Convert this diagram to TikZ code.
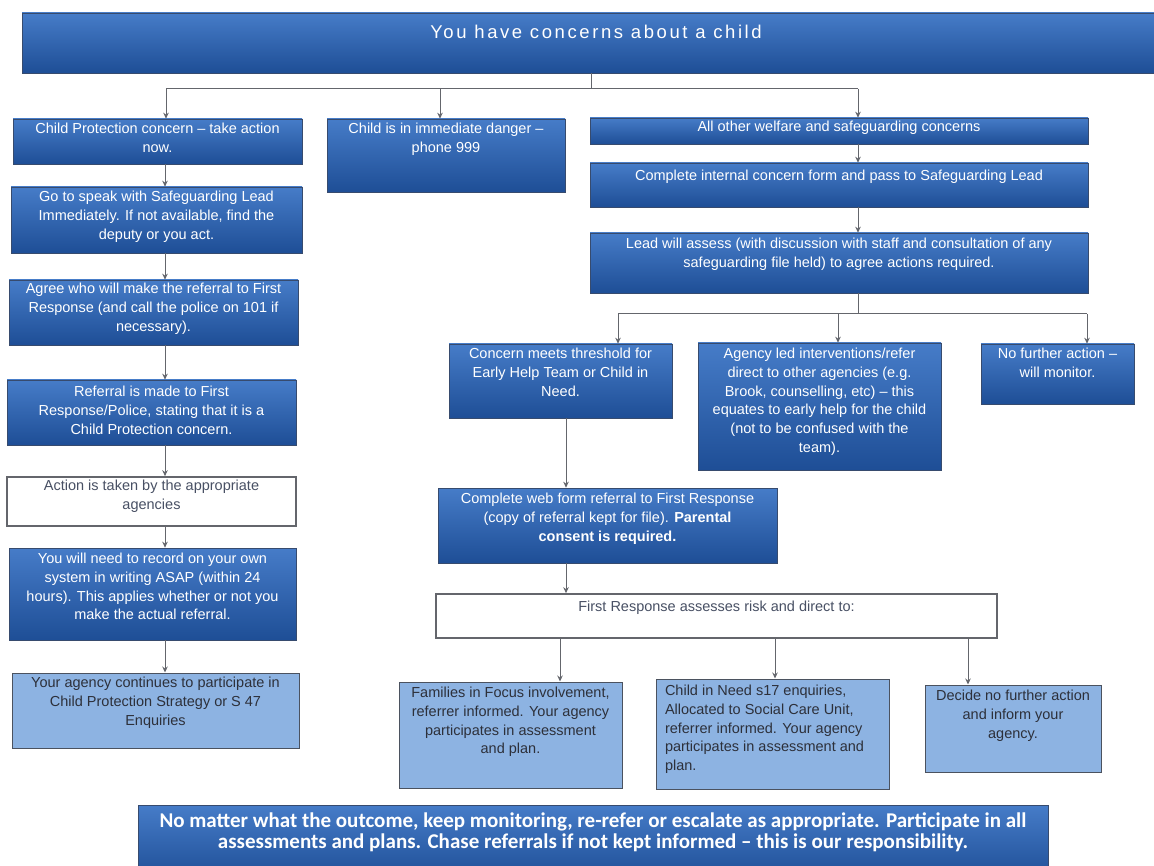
\documentclass[tikz,border=0pt]{standalone}
\usepackage{fontspec}
\setmainfont{Liberation Sans}
\newfontfamily\titlefont{Liberation Sans}[LetterSpace=14]
\newfontfamily\notefont{Carlito}
\usetikzlibrary{arrows.meta}

\definecolor{boxtop}{RGB}{70,124,200}
\definecolor{boxbot}{RGB}{30,78,150}
\definecolor{boxedge}{RGB}{55,75,110}
\definecolor{paleblue}{RGB}{141,179,226}
\definecolor{paleedge}{RGB}{75,82,95}
\definecolor{greyline}{RGB}{100,102,108}
\definecolor{darktext}{RGB}{45,48,58}
\definecolor{whitetext}{RGB}{72,80,100}

% text block of a box: [top padding]{width}{height}{lines}
\newcommand{\boxtxt}[4][4pt]{\parbox[c][#3][t]{#2}{\centering\vspace*{#1}#4}}

\tikzset{
  boxfont/.style={font=\fontsize{14.5}{18.8}\selectfont},
  darkbox/.style={boxfont, inner sep=0pt, draw=boxedge, line width=0.6pt,
    top color=boxtop, bottom color=boxbot, text=white},
  palebox/.style={boxfont, inner sep=0pt, draw=paleedge, line width=1pt,
    fill=paleblue, text=darktext},
  whitebox/.style={boxfont, inner sep=0pt, draw=greyline, line width=1.6pt,
    fill=white, text=whitetext},
  link/.style={draw=greyline, line width=1pt},
  linkarrow/.style={link, -{Stealth[length=6pt,width=5.5pt]}}
}

\begin{document}
\begin{tikzpicture}[x=1pt,y=-1pt]
    \useasboundingbox (0,0) rectangle (1154,866);
    \clip (0,0) rectangle (1154,866);

    % heading
    \node[darkbox] (top) at (596,43)
        {\boxtxt[12pt]{1148pt}{60pt}{\titlefont\fontsize{18.5}{22}\selectfont You have concerns about a child}};

    % left column
    \node[darkbox] (cp) at (157.5,141.5)
        {\boxtxt{289pt}{45pt}{Child Protection concern – take action\\ now.}};
    \node[darkbox] (golead) at (156.5,220)
        {\boxtxt{291pt}{66pt}{Go to speak with Safeguarding Lead\\ Immediately. If not available, find the\\ deputy or you act.}};
    \node[darkbox] (agree) at (153.5,312.5)
        {\boxtxt[3pt]{289pt}{65pt}{Agree who will make the referral to First\\ Response (and call the police on 101 if\\ necessary).}};
    \node[darkbox] (referral) at (151.5,412.5)
        {\boxtxt[6pt]{289pt}{65pt}{Referral is made to First\\ Response/Police, stating that it is a\\ Child Protection concern.}};
    \node[whitebox] (action) at (151.5,501.5)
        {\boxtxt[3pt]{289pt}{49pt}{Action is taken by the appropriate\\ agencies}};
    \node[darkbox] (record) at (152.5,594)
        {\boxtxt[5pt]{287pt}{92pt}{You will need to record on your own\\ system in writing ASAP (within 24\\ hours). This applies whether or not you\\ make the actual referral.}};
    \node[palebox] (continue) at (155.5,710.5)
        {\boxtxt{287pt}{75pt}{Your agency continues to participate in\\ Child Protection Strategy or S 47\\ Enquiries}};

    % middle
    \node[darkbox] (danger) at (446,155.5)
        {\boxtxt{238pt}{73pt}{Child is in immediate danger –\\ phone 999}};

    % right column
    \node[darkbox] (allother) at (839,131)
        {\boxtxt[3pt]{498pt}{26pt}{All other welfare and safeguarding concerns}};
    \node[darkbox] (internal) at (839,185)
        {\boxtxt[7pt]{498pt}{44pt}{Complete internal concern form and pass to Safeguarding Lead}};
    \node[darkbox] (assess) at (839,263)
        {\boxtxt[5pt]{498pt}{60pt}{Lead will assess (with discussion with staff and consultation of any\\ safeguarding file held) to agree actions required.}};

    \node[darkbox] (threshold) at (560.5,381)
        {\boxtxt{223pt}{74pt}{Concern meets threshold for\\ Early Help Team or Child in\\ Need.}};
    \node[darkbox] (agency) at (819.5,406.5)
        {\boxtxt[5pt]{243pt}{127pt}{Agency led interventions/refer\\ direct to other agencies (e.g.\\ Brook, counselling, etc) – this\\ equates to early help for the child\\ (not to be confused with the\\ team).}};
    \node[darkbox] (nofurther) at (1057.5,374)
        {\boxtxt{153pt}{60pt}{No further action –\\ will monitor.}};

    \node[darkbox] (webform) at (607.5,525.5)
        {\boxtxt[5pt]{339pt}{75pt}{Complete web form referral to First Response\\ (copy of referral kept for file). \textbf{Parental}\\ \textbf{consent is required.}}};
    \node[whitebox] (firstresp) at (716.5,616)
        {\boxtxt[7pt]{561pt}{44pt}{First Response assesses risk and direct to:}};

    \node[palebox] (families) at (510.5,735)
        {\boxtxt[5pt]{223pt}{106pt}{Families in Focus involvement,\\ referrer informed. Your agency\\ participates in assessment\\ and plan.}};
    \node[palebox] (cin) at (772.5,734)
        {\boxtxt[6pt]{233pt}{110pt}{\raggedright\leftskip=9pt Child in Need s17 enquiries,\\ Allocated to Social Care Unit,\\ referrer informed. Your agency\\ participates in assessment and\\ plan.}};
    \node[palebox] (decide) at (1013,728.5)
        {\boxtxt[5pt]{176pt}{87pt}{Decide no further action\\ and inform your\\ agency.}};

    % closing note
    \node[darkbox] (note) at (593,842.5)
        {\boxtxt[8pt]{910pt}{75pt}{\notefont\bfseries\fontsize{21}{21}\selectfont No matter what the outcome, keep monitoring, re-refer or escalate as appropriate. Participate in all\\ assessments and plans. Chase referrals if not kept informed – this is our responsibility.}};

    % first split
    \coordinate (hub) at (591,89);
    \coordinate (hubL) at (166,89);
    \coordinate (hubM) at (440,89);
    \coordinate (hubR) at (858,89);
    \draw[link] (top.south -| hub) -- (hub);
    \draw[link] (hubL) -- (hubR);
    \draw[linkarrow] (hubL) -- (hubL |- cp.north);
    \draw[linkarrow] (hubM) -- (hubM |- danger.north);
    \draw[linkarrow] (hubR) -- (hubR |- allother.north);

    % left chain
    \coordinate (colL) at (165,0);
    \foreach \a/\b in {cp/golead, golead/agree, agree/referral, referral/action, action/record, record/continue}
        \draw[linkarrow] (\a.south -| colL) -- (\b.north -| colL);

    % right chain
    \foreach \a/\b in {allother/internal, internal/assess}
        \draw[linkarrow] (\a.south -| hubR) -- (\b.north -| hubR);

    % second split
    \coordinate (hub2) at (858,314);
    \coordinate (hub2L) at (618,314);
    \coordinate (hub2M) at (838,314);
    \coordinate (hub2R) at (1087,314);
    \draw[link] (assess.south -| hub2) -- (hub2);
    \draw[link] (hub2L) -- (hub2R);
    \draw[linkarrow] (hub2L) -- (hub2L |- threshold.north);
    \draw[linkarrow] (hub2M) -- (hub2M |- agency.north);
    \draw[linkarrow] (hub2R) -- (hub2R |- nofurther.north);

    % referral path
    \coordinate (colW) at (566,0);
    \draw[linkarrow] (threshold.south -| colW) -- (webform.north -| colW);
    \draw[linkarrow] (webform.south -| colW) -- (firstresp.north -| colW);

    % outcomes
    \coordinate (out1) at (560,0);
    \coordinate (out2) at (775,0);
    \coordinate (out3) at (968,0);
    \draw[linkarrow] (firstresp.south -| out1) -- (families.north -| out1);
    \draw[linkarrow] (firstresp.south -| out2) -- (cin.north -| out2);
    \draw[linkarrow] (firstresp.south -| out3) -- (decide.north -| out3);
\end{tikzpicture}
\end{document}
